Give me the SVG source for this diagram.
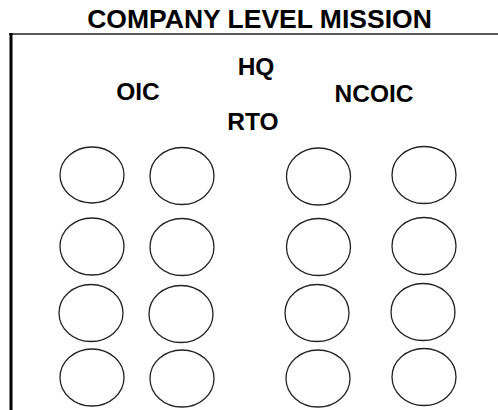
<svg xmlns="http://www.w3.org/2000/svg" width="498" height="410" viewBox="0 0 498 410">
<style>
.t{font-family:"Liberation Sans",Arial,sans-serif;font-weight:bold;fill:#000;text-anchor:middle}
.c{fill:none;stroke:#222;stroke-width:1.3}
</style>
<rect width="498" height="410" fill="#fff"/>
<text class="t" x="259.5" y="28" font-size="26.5">COMPANY LEVEL MISSION</text>
<g id="frame">
<line x1="9" y1="34" x2="498" y2="34" stroke="#222" stroke-width="1.6"/>
<line x1="11" y1="33" x2="11" y2="410" stroke="#000" stroke-width="3"/>
</g>
<g id="oic"><text class="t" x="138" y="100" font-size="24.5">OIC</text></g>
<g id="hq"><text class="t" x="256" y="75" font-size="24.5">HQ</text></g>
<g id="rto"><text class="t" x="253" y="130" font-size="24.5">RTO</text></g>
<g id="ncoic"><text class="t" x="374" y="102" font-size="24.5">NCOIC</text></g>
<g id="c11"><ellipse class="c" cx="92" cy="175" rx="32" ry="28"/></g>
<g id="c12"><ellipse class="c" cx="182" cy="176" rx="32" ry="28.5"/></g>
<g id="c13"><ellipse class="c" cx="318.5" cy="176.5" rx="32" ry="28.5"/></g>
<g id="c14"><ellipse class="c" cx="424" cy="175" rx="32" ry="28.5"/></g>
<g id="c21"><ellipse class="c" cx="92" cy="246.5" rx="32" ry="28.5"/></g>
<g id="c22"><ellipse class="c" cx="182" cy="247" rx="32" ry="28.5"/></g>
<g id="c23"><ellipse class="c" cx="318.5" cy="247" rx="32" ry="28.5"/></g>
<g id="c24"><ellipse class="c" cx="424" cy="246" rx="32" ry="28.5"/></g>
<g id="c31"><ellipse class="c" cx="91" cy="313" rx="32" ry="28.5"/></g>
<g id="c32"><ellipse class="c" cx="181" cy="314" rx="32" ry="28.5"/></g>
<g id="c33"><ellipse class="c" cx="317" cy="313" rx="32" ry="28.5"/></g>
<g id="c34"><ellipse class="c" cx="423" cy="312" rx="32" ry="28.5"/></g>
<g id="c41"><ellipse class="c" cx="92" cy="377.5" rx="32" ry="28.5"/></g>
<g id="c42"><ellipse class="c" cx="182" cy="378.5" rx="32" ry="28.5"/></g>
<g id="c43"><ellipse class="c" cx="318" cy="378.5" rx="32" ry="28.5"/></g>
<g id="c44"><ellipse class="c" cx="424" cy="377" rx="32" ry="28.5"/></g>
</svg>
